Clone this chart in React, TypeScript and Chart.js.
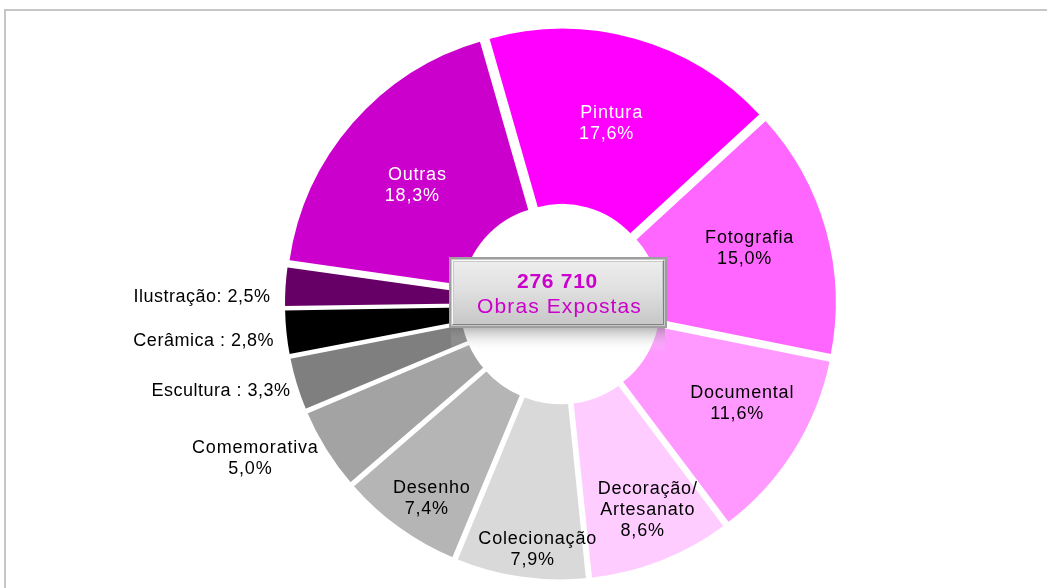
import React, { useEffect, useRef } from "react";
import { Chart, registerables } from "chart.js";

Chart.register(...registerables);

// ---- data ----
const categories = [
  "Pintura",
  "Fotografia",
  "Documental",
  "Decoração/Artesanato",
  "Colecionação",
  "Desenho",
  "Comemorativa",
  "Escultura",
  "Cerâmica",
  "Ilustração",
  "Outras",
];
const shares = [17.6, 15.0, 11.6, 8.6, 7.9, 7.4, 5.0, 3.3, 2.8, 2.5, 18.3];
const totalWorks = "276 710";
const totalCaption = "Obras Expostas";

// ---- styles ----
const sliceColors = [
  "#FF00FF",
  "#FF66FF",
  "#FF99FF",
  "#FFCCFF",
  "#D9D9D9",
  "#B5B5B5",
  "#A3A3A3",
  "#7F7F7F",
  "#000000",
  "#660066",
  "#CC00CC",
];

type LabelSpec = { r: number; da: number; kind: "stack" | "inline"; color: string; sep?: string };
const labelLayout: LabelSpec[] = [
  { r: 188, da: 0.1, kind: "stack", color: "#FFFFFF" },
  { r: 197, da: -0.6, kind: "stack", color: "#000000" },
  { r: 207, da: -3.6, kind: "stack", color: "#000000" },
  { r: 224, da: -1.5, kind: "stack", color: "#000000" },
  { r: 247, da: -3.0, kind: "stack", color: "#000000" },
  { r: 233, da: -2.3, kind: "stack", color: "#000000" },
  { r: 342, da: 5.0, kind: "stack", color: "#000000" },
  { r: 283.5, da: -0.9, kind: "inline", color: "#000000", sep: " : " },
  { r: 289, da: -1.5, kind: "inline", color: "#000000", sep: " : " },
  { r: 290, da: -2.3, kind: "inline", color: "#000000", sep: ": " },
  { r: 186, da: -1.4, kind: "stack", color: "#FFFFFF" },
];

const FONT = "'Liberation Sans', Arial, sans-serif";
const EXPLODE = 7;

const fmtPct = (v: number) => v.toFixed(1).replace(".", ",") + "%";

// offsets so that every slice is pushed out by the same distance
// (chart.js translates by offset/4 and grows the radius by offset/4*(1-sin(angle)))
const sliceOffsets = shares.map((v) => {
  const total = shares.reduce((a, b) => a + b, 0);
  const w = (v / total) * Math.PI * 2;
  const fix = 1 - Math.sin(Math.min(Math.PI, w));
  return (4 * EXPLODE) / (1 + fix);
});

const framePlugin = {
  id: "frame",
  beforeDraw(chart: any) {
    const ctx = chart.ctx;
    ctx.save();
    ctx.fillStyle = "#FFFFFF";
    ctx.fillRect(0, 0, chart.width, chart.height);
    ctx.strokeStyle = "#C6C6C6";
    ctx.lineWidth = 2;
    ctx.strokeRect(5, 10, chart.width + 50, chart.height + 50);
    ctx.restore();
  },
};

const labelsPlugin = {
  id: "sliceLabels",
  afterDatasetsDraw(chart: any) {
    const ctx = chart.ctx;
    const meta = chart.getDatasetMeta(0);
    ctx.save();
    meta.data.forEach((arc: any, i: number) => {
      const p = arc.getProps(["x", "y", "startAngle", "endAngle"], true);
      const spec = labelLayout[i];
      const a = (p.startAngle + p.endAngle) / 2 + (spec.da * Math.PI) / 180;
      const ax = p.x + spec.r * Math.cos(a);
      const ay = p.y + spec.r * Math.sin(a);
      ctx.fillStyle = spec.color;
      ctx.textBaseline = "middle";
      if (spec.kind === "inline") {
        ctx.font = `18px ${FONT}`;
        (ctx as any).letterSpacing = "0.5px";
        ctx.textAlign = "right";
        ctx.fillText(categories[i] + (spec.sep || ": ") + fmtPct(shares[i]), ax, ay);
      } else {
        ctx.font = `18px ${FONT}`;
        (ctx as any).letterSpacing = "0.8px";
        ctx.textAlign = "center";
        const nameLines = categories[i].split(/(?<=\/)/);
        const lines = [...nameLines, fmtPct(shares[i])];
        const lh = 21;
        const y0 = ay - ((lines.length - 1) * lh) / 2;
        lines.forEach((ln, k) => {
          const isPct = k === lines.length - 1;
          ctx.fillText(ln, ax + (isPct ? -5 : 0), y0 + k * lh);
        });
      }
    });
    ctx.restore();

    // centre box
    const cx = meta.data[0].x;
    const cy = meta.data[0].y;
    const w = 218;
    const h = 71;
    const x0 = Math.round(cx - 111.5);
    const y0 = Math.round(cy - 47);
    ctx.save();
    // reflection below the box
    const rg = ctx.createLinearGradient(0, y0 + h, 0, y0 + h + 24);
    rg.addColorStop(0, "rgba(120,120,120,0.5)");
    rg.addColorStop(1, "rgba(255,255,255,0)");
    ctx.fillStyle = rg;
    ctx.fillRect(x0 + 2, y0 + h, w - 4, 24);
    // bevelled box
    ctx.fillStyle = "#9E9E9E";
    ctx.fillRect(x0, y0, w, h);
    ctx.fillStyle = "#C9C9C9";
    ctx.fillRect(x0 + 2, y0 + 2, w - 4, h - 4);
    const g = ctx.createLinearGradient(0, y0 + 5, 0, y0 + h - 5);
    g.addColorStop(0, "#EDEDED");
    g.addColorStop(0.45, "#E0E0E0");
    g.addColorStop(1, "#C8C8C8");
    ctx.fillStyle = g;
    ctx.fillRect(x0 + 5, y0 + 5, w - 10, h - 10);
    ctx.strokeStyle = "rgba(255,255,255,0.9)";
    ctx.lineWidth = 1;
    ctx.beginPath();
    ctx.moveTo(x0 + 3.5, y0 + h - 3.5);
    ctx.lineTo(x0 + 3.5, y0 + 3.5);
    ctx.lineTo(x0 + w - 3.5, y0 + 3.5);
    ctx.stroke();
    ctx.strokeStyle = "rgba(110,110,110,0.8)";
    ctx.beginPath();
    ctx.moveTo(x0 + w - 3.5, y0 + 3.5);
    ctx.lineTo(x0 + w - 3.5, y0 + h - 3.5);
    ctx.lineTo(x0 + 3.5, y0 + h - 3.5);
    ctx.stroke();
    // texts
    ctx.fillStyle = "#CC00CC";
    ctx.textAlign = "center";
    ctx.textBaseline = "middle";
    ctx.font = `bold 21px ${FONT}`;
    (ctx as any).letterSpacing = "0.7px";
    ctx.fillText(totalWorks, cx - 3, y0 + 25);
    ctx.font = `21px ${FONT}`;
    (ctx as any).letterSpacing = "1.1px";
    ctx.fillText(totalCaption, cx - 1, y0 + 50);
    ctx.restore();
  },
};

export default function App() {
  const ref = useRef<HTMLCanvasElement | null>(null);

  useEffect(() => {
    document.body.style.margin = "0";
    if (!ref.current) return;
    const chart = new Chart(ref.current, {
      type: "doughnut",
      data: {
        labels: categories,
        datasets: [
          {
            data: shares,
            backgroundColor: sliceColors,
            borderColor: "#FFFFFF",
            borderWidth: 3,
            offset: sliceOffsets,
            hoverOffset: 0,
          },
        ],
      },
      options: {
        responsive: false,
        animation: false,
        events: [],
        rotation: -16,
        cutout: "34%",
        radius: 270,
        layout: { padding: { left: 74, right: 0, top: 20, bottom: 0 } },
        plugins: {
          legend: { display: false },
          tooltip: { enabled: false },
          title: { display: false },
        },
      },
      plugins: [framePlugin, labelsPlugin],
    });
    return () => chart.destroy();
  }, []);

  return (
    <div style={{ width: 1047, height: 588, overflow: "hidden" }}>
      <canvas ref={ref} width={1047} height={588} style={{ display: "block" }} />
    </div>
  );
}
